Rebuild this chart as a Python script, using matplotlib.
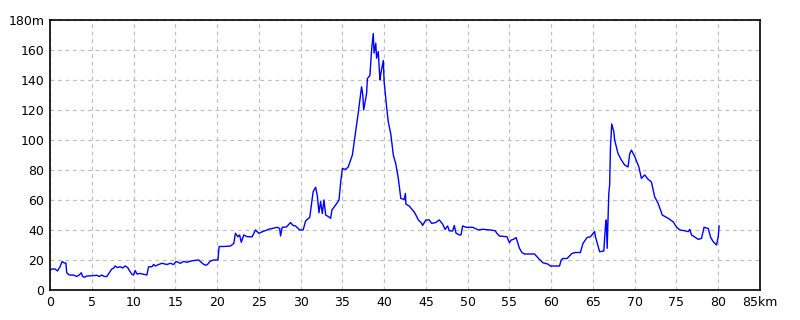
import matplotlib
matplotlib.use("Agg")
import matplotlib.pyplot as plt

plt.rcParams['font.family'] = ['Liberation Sans Narrow', 'DejaVu Sans']

# distance (km) / elevation (m)
dist = [0.0, 0.2, 0.6, 0.9, 1.2, 1.45, 1.7, 1.9, 2.0, 2.3, 2.8, 3.2, 3.5, 3.75, 3.9,
        4.1, 4.4, 5.0, 5.6, 5.9, 6.2, 6.5, 6.8, 7.1, 7.4, 7.6, 7.8, 8.05, 8.4, 8.7,
        9.0, 9.3, 9.5, 9.8, 10.0, 10.2, 10.4, 10.8, 11.2, 11.6, 11.8, 12.2, 12.4, 12.6,
        13.0, 13.4, 14.0, 14.4, 14.8, 15.1, 15.6, 16.0, 16.4, 17.0, 17.8, 18.2, 18.5,
        18.8, 19.2, 19.6, 20.1, 20.25, 20.8, 21.6, 22.0, 22.2, 22.5, 22.7, 22.9, 23.2,
        23.6, 24.2, 24.6, 25.0, 25.5, 26.2, 27.2, 27.5, 27.6, 27.8, 28.3, 28.8, 29.1,
        29.4, 29.9, 30.3, 30.6, 31.1, 31.3, 31.5, 31.8, 32.0, 32.2, 32.4, 32.6, 32.8,
        33.0, 33.3, 33.6, 33.75, 34.2, 34.6, 34.8, 35.0, 35.4, 35.7, 36.2, 36.5, 36.9,
        37.3, 37.45, 37.55, 37.9, 38.0, 38.3, 38.5, 38.7, 38.8, 39.0, 39.1, 39.3, 39.5,
        39.6, 39.9, 40.0, 40.3, 40.5, 40.8, 41.1, 41.4, 41.7, 42.0, 42.4, 42.55, 42.6,
        43.0, 43.6, 43.8, 44.1, 44.5, 44.6, 45.0, 45.4, 45.7, 46.2, 46.6, 47.0, 47.3,
        47.6, 47.8, 48.2, 48.4, 48.6, 49.0, 49.2, 49.4, 49.8, 50.6, 51.3, 51.8, 52.7,
        53.3, 53.5, 53.8, 54.7, 55.0, 55.2, 55.5, 55.8, 56.2, 56.5, 56.8, 57.3, 58.0,
        58.6, 59.0, 59.6, 59.9, 61.0, 61.2, 61.4, 61.9, 62.5, 62.9, 63.5, 63.8, 64.3,
        64.7, 65.2, 65.3, 65.8, 66.3, 66.5, 66.6, 66.7, 66.9, 67.0, 67.1, 67.25, 67.5,
        67.6, 68.0, 68.4, 68.8, 69.2, 69.4, 69.6, 70.0, 70.5, 70.8, 71.2, 71.6, 72.0,
        72.4, 72.8, 73.3, 74.0, 74.6, 75.0, 75.4, 76.0, 76.4, 76.6, 76.8, 77.0, 77.6,
        78.0, 78.3, 78.8, 79.1, 79.4, 79.8, 80.0, 80.1]
elev = [13, 14, 14, 12.7, 15.5, 19, 18, 18, 11.5, 10, 10, 9, 10, 11.5, 9,
        8.5, 9.3, 9.5, 9.8, 9, 10, 9, 9, 11.5, 14, 14.5, 16, 15, 15.5, 14.7,
        16, 15, 13, 10.5, 10, 13, 10.7, 11, 10.5, 10, 15.5, 15.5, 17, 16,
        17, 17.8, 17, 17.8, 17, 19, 17.8, 19, 18.5, 19.5, 20, 18, 16.7,
        16.7, 19.3, 20, 20, 29, 29, 29.3, 31, 37.8, 35.5, 36.7, 31.8, 36.7,
        35.5, 35.5, 40, 37.8, 39, 40.5, 41.8, 41, 36, 41.8, 42, 45, 43,
        42.7, 40, 40, 46, 48.5, 57, 65.5, 68.5, 63, 51.5, 59, 51, 60,
        50, 49, 47.8, 53.3, 56.7, 60, 72, 81, 80.4, 82, 90, 102, 118,
        135.5, 130, 120, 131, 141, 143, 160, 171, 158, 164.5, 154.5, 159, 140,
        144, 153, 139, 122, 112, 104, 90, 84, 74.4, 61, 60.4, 64.4, 57.3,
        56, 52, 50, 46.7, 44.4, 43, 46.7, 46.7, 44.4, 45, 46.7, 44, 40.4,
        42.7, 39.5, 39.3, 43, 38, 36.7, 36.7, 42.7, 41.8, 41.8, 40, 40.5, 40,
        39.5, 37.8, 36, 35.5, 31.5, 33.3, 33.8, 35, 27.8, 25, 24, 24, 24,
        20.4, 18.2, 17.3, 16, 16, 20, 21, 21, 24.4, 25, 25, 31, 35,
        35.5, 39, 35.5, 25.5, 26, 43, 46.7, 27.8, 64.4, 70, 95.5, 110.7, 105.5,
        100, 91, 86.7, 83.3, 82, 90.7, 93.3, 89, 82, 74.4, 76.7, 73.8, 72,
        62, 57.8, 50, 47.8, 45.5, 42, 40, 39.5, 38.9, 40.4, 36.7, 36, 33.8,
        34.4, 41.8, 41, 35, 32.2, 30, 35.5, 42.7]

xticks = list(range(0, 86, 5))
xlabels = [str(v) for v in xticks[:-1]] + ["85km"]
yticks = list(range(0, 181, 20))
ylabels = [str(v) for v in yticks[:-1]] + ["180m"]

fig = plt.figure(figsize=(8, 3.2), dpi=100)
ax = fig.add_axes([0.0625, 0.09375, 0.8875, 0.84375])
ax.plot(dist, elev, color="#0000ff", linewidth=1.0)

ax.set_xlim(0, 85)
ax.set_ylim(0, 180)
ax.set_xticks(xticks)
ax.set_xticklabels(xlabels)
ax.set_yticks(yticks)
ax.set_yticklabels(ylabels)
ax.tick_params(length=0, labelsize=9, pad=4)
ax.grid(True, color="#c0c0c0", linestyle=(0, (3, 3)), linewidth=0.9)
for s in ax.spines.values():
    s.set_linewidth(1.2)
    s.set_color("black")

fig.savefig("out.png", dpi=100)
